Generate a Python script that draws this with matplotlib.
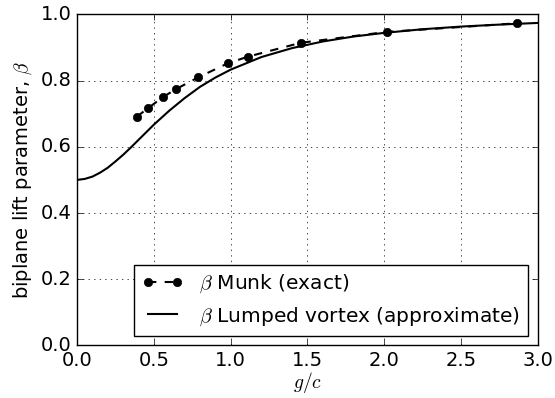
import matplotlib
matplotlib.use('Agg')
import matplotlib.pyplot as plt

# Munk (exact) values
gc_munk = [0.389, 0.460, 0.562, 0.643, 0.790, 0.981, 1.111, 1.456, 2.018, 2.867]
beta_munk = [0.691, 0.716, 0.751, 0.774, 0.810, 0.852, 0.872, 0.914, 0.947, 0.973]

# Lumped vortex (approximate) curve
gc_lv = [0.0, 0.05, 0.1, 0.15, 0.2, 0.25, 0.3, 0.35, 0.4, 0.45, 0.5, 0.6, 0.7, 0.8, 0.9, 1.0,
         1.2, 1.4, 1.6, 1.8, 2.0, 2.25, 2.5, 2.75, 3.0]
beta_lv = [0.500, 0.503, 0.510, 0.522, 0.537, 0.556, 0.576, 0.598, 0.621, 0.644, 0.667,
           0.709, 0.747, 0.781, 0.809, 0.833,
           0.871, 0.898, 0.918, 0.933, 0.944, 0.955, 0.963, 0.969, 0.974]

plt.style.use('classic')
plt.rcParams['font.size'] = 14
fig = plt.figure(figsize=(5.55, 3.98), dpi=100, facecolor='white')
ax = fig.add_axes([0.139, 0.132, 0.830, 0.832])

ax.plot(gc_munk, beta_munk, 'k--o', lw=1.5, markersize=6, label=r'$\beta$ Munk (exact)')
ax.plot(gc_lv, beta_lv, 'k-', lw=1.5, label=r'$\beta$ Lumped vortex (approximate)')

ax.set_xlim(0, 3)
ax.set_ylim(0, 1)
ax.set_xticks([0, 0.5, 1.0, 1.5, 2.0, 2.5, 3.0])
ax.set_yticks([0, 0.2, 0.4, 0.6, 0.8, 1.0])
ax.tick_params(labelsize=14)
ax.grid(True)
ax.set_xlabel(r'$g/c$', fontsize=14, labelpad=0)
ax.set_ylabel(r'biplane lift parameter, $\beta$', fontsize=14)
ax.legend(loc='lower right', bbox_to_anchor=(0.978, 0.029), borderaxespad=0,
          fontsize=14.5)

fig.savefig('out.png', dpi=100, facecolor='white')
